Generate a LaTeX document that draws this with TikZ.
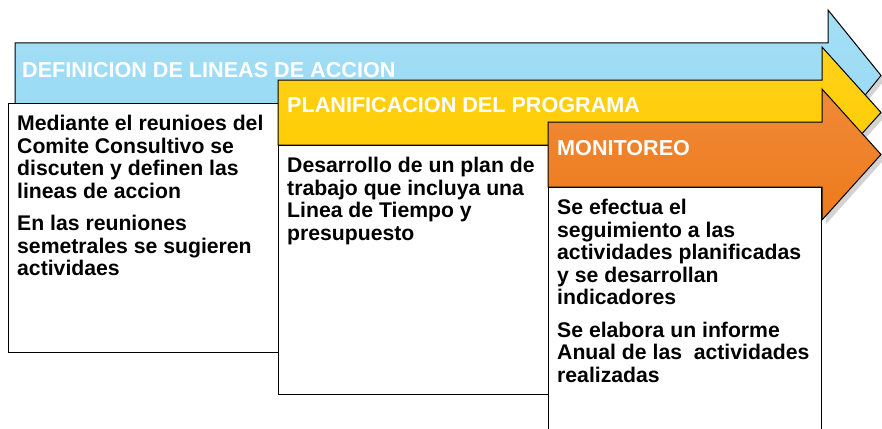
\documentclass[tikz,border=0pt]{standalone}
\usepackage{fontspec}
\setmainfont{Liberation Sans}
\usepackage{xcolor}
\usepackage{tikz}
\usetikzlibrary{shapes,arrows}
\usetikzlibrary{positioning}
\usetikzlibrary{shadows}
\definecolor{accionblue}{RGB}{152,218,244}
\definecolor{progyellow}{RGB}{255,204,0}
\definecolor{monorange}{RGB}{238,122,28}
\tikzstyle{phase} = [draw=black, line width=1pt, line join=miter,
    drop shadow={shadow xshift=4pt, shadow yshift=-4pt, opacity=.35}]
\tikzstyle{title} = [anchor=west, text=white, inner sep=0pt,
    font=\bfseries\fontsize{21.6}{24}\selectfont]
\tikzstyle{infobox} = [draw=black, line width=0.9pt, fill=white,
    anchor=north west, inner sep=0pt]
\tikzstyle{info} = [align=left, inner sep=0pt,
    font=\bfseries\fontsize{21.2}{22.6}\selectfont]
% arrow outline: left x, body top y, head x
\newcommand{\phasepath}[3]{(#1,#2) -- (#3,#2) -- (#3,{#2-33}) -- (881,{#2+32.5})
    -- (#3,{#2+98}) -- (#3,{#2+65}) -- (#1,{#2+65}) -- cycle}

\begin{document}
\begin{tikzpicture}[x=1pt, y=-1pt]
  \useasboundingbox (0,0) rectangle (882,428);
  \clip (0,0) rectangle (882,428);
  % Definicion
  \path[phase, top color=accionblue!88!white, bottom color=accionblue]
    \phasepath{15}{43}{828};
  \node [title] (deftitle) at (22,70) {DEFINICION DE LINEAS DE ACCION};
  \node [infobox, minimum width=270pt, minimum height=249pt] (defbox) at (8,103) {};
  \node [info, below right=12pt and 9pt of defbox.north west, anchor=north west] (deftext)
    {Mediante el reunioes del\\Comite Consultivo se\\discuten y definen las\\lineas de accion\\[9.5pt]
     En las reuniones\\semetrales se sugieren\\actividaes};
  % Planificacion
  \path[phase, top color=progyellow!90!white, bottom color=progyellow]
    \phasepath{278}{80}{822};
  \node [title] (plantitle) at (287,105) {PLANIFICACION DEL PROGRAMA};
  \node [infobox, minimum width=270pt, minimum height=249pt] (planbox) at (278,145) {};
  \node [info, below right=12pt and 9pt of planbox.north west, anchor=north west] (plantext)
    {Desarrollo de un plan de\\trabajo que incluya una\\Linea de Tiempo y\\presupuesto};
  % Monitoreo
  \path[phase, top color=monorange!88!white, bottom color=monorange]
    \phasepath{548}{122}{822};
  \node [title] (montitle) at (557,148) {MONITOREO};
  \node [infobox, minimum width=273pt, minimum height=260pt] (monbox) at (548,187) {};
  \node [info, below right=12pt and 9pt of monbox.north west, anchor=north west] (montext)
    {Se efectua el\\seguimiento a las\\actividades planificadas\\y se desarrollan\\indicadores\\[9.5pt]
     Se elabora un informe\\Anual de las\ \ actividades\\realizadas};
\end{tikzpicture}
\end{document}
